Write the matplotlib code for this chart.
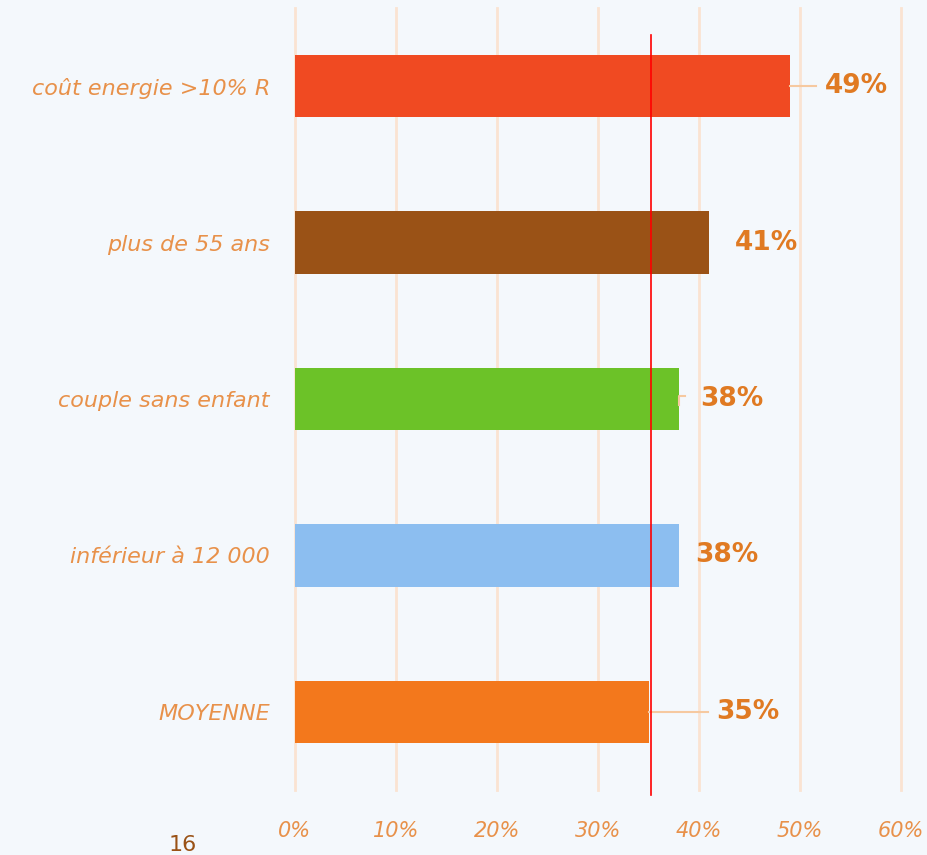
import matplotlib.pyplot as plt

# data (top to bottom)
categories = ["coût energie >10% R", "plus de 55 ans", "couple sans enfant",
              "inférieur à 12 000", "MOYENNE"]
values = [49, 41, 38, 38, 35]
colors = ["#F04A22", "#9A5216", "#6CC228", "#8CBEF0", "#F3781C"]
average_line = 35.2
xticks = [0, 10, 20, 30, 40, 50, 60]

# label placement (offset from bar end, in % units) and leader line length
label_offsets = [3.5, 2.6, 2.1, 1.6, 6.7]
leader_lengths = [2.6, 0.0, 0.0, 0.0, 5.9]

bg = "#F4F8FC"
label_color = "#E8914A"
value_color = "#E07A22"
grid_color = "#FAE3D2"
font = "DejaVu Sans"

fig = plt.figure(figsize=(9.27, 8.55), dpi=100, facecolor=bg)
ax = fig.add_axes([295 / 927, 1 - 790 / 855, 606 / 927, 782 / 855])
ax.set_facecolor(bg)

ypos = list(range(len(categories)))
ax.barh(ypos, values, height=0.4, color=colors, zorder=2)
ax.set_ylim(len(categories) - 0.5, -0.5)
ax.set_xlim(0, 60)

for x in xticks:
    ax.axvline(x, color=grid_color, lw=2, zorder=1, clip_on=False)

for spine in ax.spines.values():
    spine.set_visible(False)
ax.tick_params(length=0)
ax.set_xticks(xticks)
ax.set_xticklabels([f"{t}%" for t in xticks], fontsize=15, color=label_color,
                   style="italic", family=font)
ax.tick_params(axis="x", pad=22)
ax.set_yticks(ypos)
ax.set_yticklabels(categories, fontsize=16, color=label_color,
                   style="italic", family=font)
ax.tick_params(axis="y", pad=18)

for i, v in enumerate(values):
    if leader_lengths[i] > 0:
        ax.plot([v, v + leader_lengths[i]], [i, i], color="#F6C9A0", lw=1.5, zorder=3)
    ax.text(v + label_offsets[i], i, f"{v}%", va="center", ha="left",
            fontsize=19, fontweight="bold", color=value_color, family=font)

# small hook leader on green bar
ax.plot([38.0, 38.0, 38.6], [2.04, 1.98, 1.98], color="#F6C9A0", lw=1.5, zorder=3)

ax.axvline(average_line, ymin=-0.007, ymax=0.965, color="#FF0000", lw=1.2,
           zorder=4, clip_on=False)

fig.text(183 / 927, 1 - 845 / 855, "16", fontsize=16, color="#9A5216",
         ha="center", va="center", family=font)

fig.savefig("out.png", dpi=100, facecolor=bg)
